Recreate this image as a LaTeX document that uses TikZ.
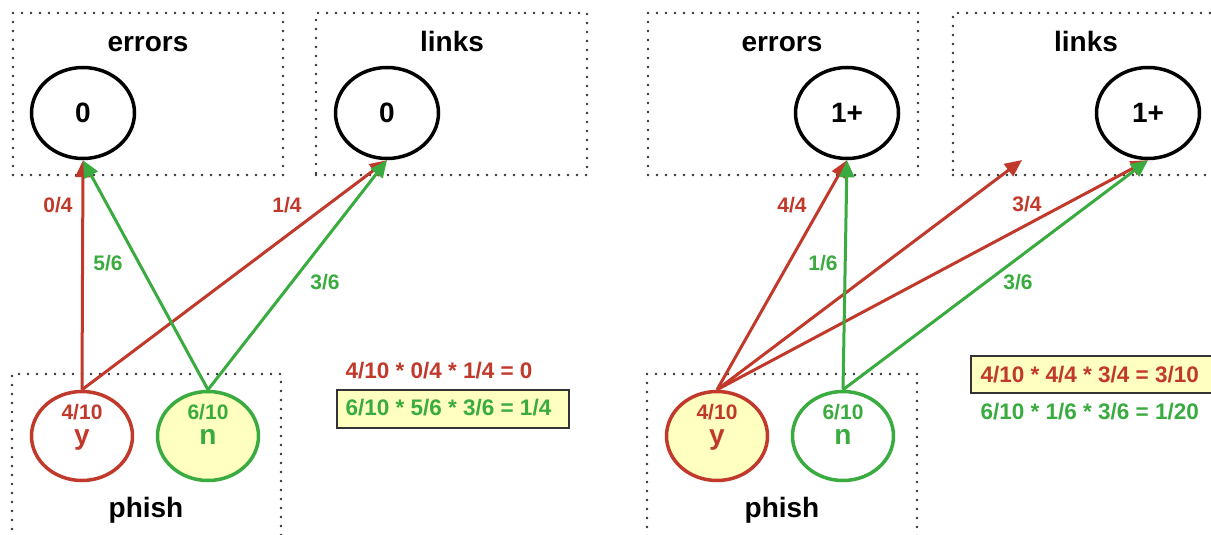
\documentclass[tikz,border=0pt]{standalone}
\usepackage{fontspec}
\setmainfont{Liberation Sans}
\usetikzlibrary{shapes.geometric,arrows.meta}
\definecolor{pred}{RGB}{192,57,43}
\definecolor{pgreen}{RGB}{57,171,63}
\definecolor{pyellow}{RGB}{255,255,192}
\definecolor{dotgray}{RGB}{50,50,50}
\newcommand{\bigtxt}{\fontsize{28}{32}\selectfont\bfseries}
\newcommand{\smalltxt}{\fontsize{21}{24}\selectfont\bfseries}
\newcommand{\eqtxt}{\fontsize{22.5}{26}\selectfont\bfseries}
\tikzset{
  dotbox/.style={draw=dotgray, line width=2.6pt, line cap=round,
    dash pattern=on 0pt off 9pt, rectangle, inner sep=0pt},
  title/.style={anchor=base, font=\bigtxt, text=black},
  varnode/.style={ellipse, draw=black, line width=3.5pt, minimum width=103pt,
    minimum height=91pt, inner sep=0pt, font=\bigtxt},
  valnode/.style={ellipse, line width=3.5pt, minimum width=101pt,
    minimum height=89pt, inner sep=0pt},
  prob/.style={anchor=base, font=\smalltxt},
  val/.style={anchor=base, font=\bigtxt},
  redarr/.style={draw=pred, line width=3pt,
    -{Triangle[length=17pt,width=15pt]}},
  greenarr/.style={draw=pgreen, line width=3pt,
    -{Triangle[length=17pt,width=15pt]}},
  eqbox/.style={draw=black!80, line width=1.8pt, fill=pyellow, rectangle,
    inner sep=0pt},
  eqtext/.style={anchor=base west, font=\eqtxt},
}
\begin{document}
\begin{tikzpicture}[x=1pt,y=-1pt]
\useasboundingbox (0,0) rectangle (1211,535);
\clip (0,0) rectangle (1211,535);

% ---------- left: phish = n ----------
\node[dotbox, minimum width=270pt, minimum height=162pt] (lerrbox) at (148,94) {};
\node[dotbox, minimum width=271pt, minimum height=162pt] (llinkbox) at (451.5,94) {};
\node[dotbox, minimum width=269pt, minimum height=171pt] (lphishbox) at (146.5,459.5) {};
\node[title] (lerrt) at (148,52) {errors};
\node[title] (llinkt) at (452,52) {links};
\node[title] (lphisht) at (146,517) {phish};

\node[varnode] (lerr) at (83,113) {0};
\node[varnode] (llink) at (387,113) {0};
\node[valnode, draw=pred] (ly) at (82,436) {};
\node[valnode, draw=pgreen, fill=pyellow] (ln) at (208,436) {};
\node[prob, text=pred] (lyp) at (82,419) {4/10};
\node[val, text=pred] (lyv) at (82,444) {y};
\node[prob, text=pgreen] (lnp) at (208,419) {6/10};
\node[val, text=pgreen] (lnv) at (208,444) {n};

\draw[redarr] (ly.north) -- (lerr.south);
\draw[redarr] (ly.north) -- (llink.south);
\draw[greenarr] (ln.north) -- (lerr.south);
\draw[greenarr] (ln.north) -- (llink.south);

\node[prob, text=pred] (l04) at (58,212) {0/4};
\node[prob, text=pgreen] (l56) at (108,270) {5/6};
\node[prob, text=pred] (l14) at (287,212) {1/4};
\node[prob, text=pgreen] (l36) at (325,289) {3/6};

\node[eqtext, text=pred] (leqy) at (342,378) {4/10 * 0/4 * 1/4 = 0};
\node[eqbox, minimum width=232pt, minimum height=38pt] (leqbox) at (453,409) {};
\node[eqtext, text=pgreen] (leqn) at (342,415) {6/10 * 5/6 * 3/6 = 1/4};

% ---------- right: phish = y ----------
\node[dotbox, minimum width=270pt, minimum height=162pt] (rerrbox) at (783,94) {};
\node[dotbox, minimum width=277pt, minimum height=162pt] (rlinkbox) at (1091.5,94) {};
\node[dotbox, minimum width=270pt, minimum height=171pt] (rphishbox) at (782,459.5) {};
\node[title] (rerrt) at (782,52) {errors};
\node[title] (rlinkt) at (1086,52) {links};
\node[title] (rphisht) at (782,517) {phish};

\node[varnode] (rerr) at (847,113) {1+};
\node[varnode] (rlink) at (1148,113) {1+};
\node[valnode, draw=pred, fill=pyellow] (ry) at (717,436) {};
\node[valnode, draw=pgreen] (rn) at (843,436) {};
\node[prob, text=pred] (ryp) at (717,419) {4/10};
\node[val, text=pred] (ryv) at (717,444) {y};
\node[prob, text=pgreen] (rnp) at (843,419) {6/10};
\node[val, text=pgreen] (rnv) at (843,444) {n};

\coordinate (rfree) at (1022,160);
\draw[redarr] (ry.north) -- (rerr.south);
\draw[redarr] (ry.north) -- (rfree);
\draw[redarr] (ry.north) -- (rlink.south);
\draw[greenarr] (rn.north) -- (rerr.south);
\draw[greenarr] (rn.north) -- (rlink.south);

\node[prob, text=pred] (r44) at (792,212) {4/4};
\node[prob, text=pgreen] (r16) at (823,270) {1/6};
\node[prob, text=pred] (r34) at (1027,211) {3/4};
\node[prob, text=pgreen] (r36) at (1018,289) {3/6};

\node[eqbox, minimum width=270pt, minimum height=37pt] (reqbox) at (1106,374.5) {};
\node[eqtext, text=pred] (reqy) at (977,382) {4/10 * 4/4 * 3/4 = 3/10};
\node[eqtext, text=pgreen] (reqn) at (977,419) {6/10 * 1/6 * 3/6 = 1/20};
\end{tikzpicture}
\end{document}
